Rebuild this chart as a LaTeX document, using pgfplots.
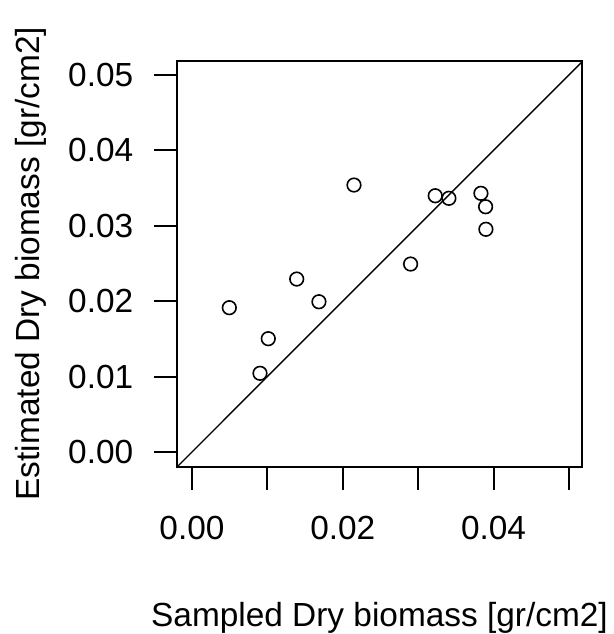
\documentclass[border=0pt]{standalone}
\usepackage{fontspec}
\setmainfont{Liberation Sans}
\usepackage{pgfplots}
\pgfplotsset{compat=1.18}

% sampled vs estimated dry biomass
\pgfplotstableread{
x y
0.00495 0.01914
0.00902 0.01044
0.01012 0.01503
0.01389 0.02294
0.01684 0.01993
0.02149 0.03541
0.02900 0.02493
0.03227 0.03399
0.03408 0.03365
0.03833 0.03431
0.03895 0.03253
0.03899 0.02954
}\biomass

\begin{document}
\begin{tikzpicture}
\path[use as bounding box] (0,0) rectangle (307pt,317pt);
\begin{axis}[
    at={(88.65pt,83.65pt)},
    anchor=south west,
    scale only axis,
    width=202.2pt,
    height=203pt,
    xmin=-0.00195, xmax=0.0517,
    ymin=-0.00195, ymax=0.0519,
    scaled ticks=false,
    axis line style={line width=1pt},
    xtick={0,0.01,0.02,0.03,0.04,0.05},
    xticklabels={0.00,,0.02,,0.04,},
    ytick={0,0.01,0.02,0.03,0.04,0.05},
    yticklabels={0.00,0.01,0.02,0.03,0.04,0.05},
    tick align=outside,
    major tick length=11.5pt,
    every tick/.style={black, line width=1pt},
    xtick pos=bottom, ytick pos=left,
    /pgf/number format/assume math mode=true,
    tick label style={font=\fontsize{16.7}{20}\selectfont},
    xticklabel style={yshift=-9.5pt},
    yticklabel style={xshift=-7pt},
    label style={font=\fontsize{16.7}{20}\selectfont},
    xlabel={Sampled Dry biomass [gr/cm2]},
    ylabel={Estimated Dry biomass [gr/cm2]},
    xlabel style={at={(axis description cs:0.5,-0.3325)}, anchor=north, inner sep=0pt},
    ylabel style={at={(axis description cs:-0.4006,0.5)}, anchor=north, inner sep=0pt},
]
\addplot[black, line width=0.7pt] coordinates {(-0.00195,-0.00195) (0.0519,0.0519)};
\addplot[only marks, mark=o, mark size=3.4pt, mark options={line width=0.8pt, black}] table {\biomass};
\end{axis}
\end{tikzpicture}
\end{document}
